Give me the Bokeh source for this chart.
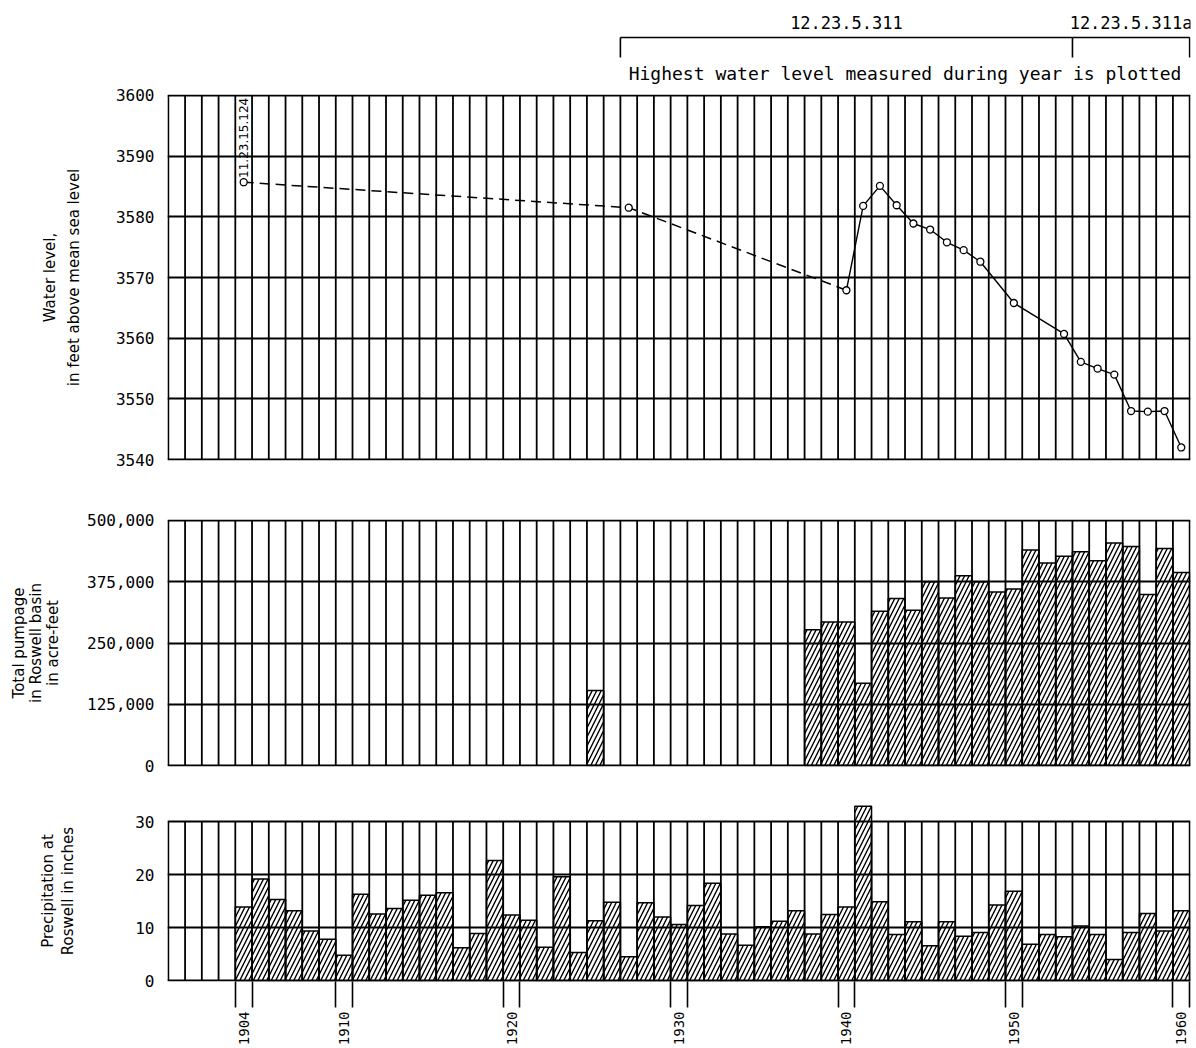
import math

from bokeh.core.properties import value
from bokeh.embed import file_html
from bokeh.layouts import column
from bokeh.models import FixedTicker, NumeralTickFormatter, Range1d
from bokeh.plotting import figure
from bokeh.resources import INLINE

FONT = "DejaVu Sans"
LETTERING = "DejaVu Sans Mono"
INK = "black"
LW = 1.8

# one column per calendar year
years = list(range(1900, 1961))

# Highest water level measured during the year, feet above mean sea level
# sparse early records, joined by a dashed line
early_years = [1904, 1927, 1940]
early_levels = [3585.7, 3581.5, 3567.9]
# continuous record
record_years = [1940, 1941, 1942, 1943, 1944, 1945, 1946, 1947, 1948, 1950,
                1953, 1954, 1955, 1956, 1957, 1958, 1959, 1960]
record_levels = [3567.9, 3581.8, 3585.1, 3581.9, 3578.9, 3577.9, 3575.8, 3574.5,
                 3572.6, 3565.8, 3560.7, 3556.1, 3555.0, 3554.0, 3548.0, 3547.9,
                 3548.0, 3542.0]

# observation wells
first_well = "11.23.15.124"
well_names = ["12.23.5.311", "12.23.5.311a"]
well_first_year = [1927, 1954]
well_last_year = [1953, 1960]
note = "Highest water level measured during year is plotted"

# Total pumpage in Roswell basin, acre-feet
pump_years = [1925, 1938, 1939, 1940, 1941, 1942, 1943, 1944, 1945, 1946, 1947,
              1948, 1949, 1950, 1951, 1952, 1953, 1954, 1955, 1956, 1957, 1958,
              1959, 1960]
pump_values = [153000, 277000, 293000, 293000, 168000, 315000, 341000, 317000,
               375000, 342000, 387000, 375000, 354000, 360000, 440000, 413000,
               427000, 436000, 418000, 454000, 447000, 349000, 443000, 394000]

# Precipitation at Roswell, inches
precip_years = list(range(1904, 1961))
precip_values = [13.9, 19.2, 15.3, 13.2, 9.4, 7.8, 4.8, 16.3, 12.6, 13.6,
                 15.2, 16.1, 16.6, 6.2, 8.9, 22.7, 12.4, 11.4, 6.3, 19.6,
                 5.3, 11.3, 14.8, 4.5, 14.7, 12.0, 10.6, 14.2, 18.4, 8.8,
                 6.7, 10.2, 11.2, 13.2, 8.8, 12.5, 13.9, 32.9, 14.9, 8.7,
                 11.1, 6.6, 11.1, 8.4, 9.1, 14.3, 16.9, 6.9, 8.7, 8.3,
                 10.3, 8.7, 4.0, 9.1, 12.7, 9.4, 13.2]

level_ticks = [3540, 3550, 3560, 3570, 3580, 3590, 3600]
pump_ticks = [0, 125000, 250000, 375000, 500000]
precip_ticks = [0, 10, 20, 30]
labeled_years = [1904, 1910, 1920, 1930, 1940, 1950, 1960]

W = 1196
LEFT, RIGHT = 167, 6
HEAD_H = 84
x_range = Range1d(years[0] - 0.55, years[-1] + 0.55)
edges = [y - 0.5 for y in years] + [years[-1] + 0.5]

BAR_STYLE = dict(fill_color=None, line_color=INK, line_width=1.5,
                 hatch_pattern="/", hatch_color=INK, hatch_scale=9,
                 hatch_weight=1.4)


def make_panel(height, top, bottom, yr, ticks, label, label_standoff,
               line_height):
    p = figure(width=W, height=height, x_range=x_range, y_range=yr,
               output_backend="svg", toolbar_location=None, title=None,
               min_border_left=LEFT, min_border_right=RIGHT,
               min_border_top=top, min_border_bottom=bottom,
               outline_line_color=None, background_fill_color="white",
               border_fill_color="white")
    p.xgrid.visible = False
    ax = p.yaxis[0]
    ax.ticker = FixedTicker(ticks=ticks)
    ax.major_tick_out = 0
    ax.major_tick_in = 0
    ax.minor_tick_out = 0
    ax.minor_tick_in = 0
    ax.axis_line_color = None
    ax.major_label_text_font = LETTERING
    ax.major_label_text_font_size = "16px"
    ax.major_label_text_color = INK
    ax.major_label_standoff = 13
    ax.axis_label = label
    ax.axis_label_text_font = FONT
    ax.axis_label_text_font_size = "15px"
    ax.axis_label_text_font_style = "normal"
    ax.axis_label_text_color = INK
    ax.axis_label_text_line_height = line_height
    ax.axis_label_standoff = label_standoff
    p.ygrid.grid_line_color = INK
    p.ygrid.grid_line_width = LW
    # year columns
    p.segment(x0=edges, y0=[ticks[0]] * len(edges), x1=edges,
              y1=[ticks[-1]] * len(edges), line_color=INK, line_width=LW)
    return p


# header with well brackets (y measured upward from the header's bottom)
head = figure(width=W, height=HEAD_H, x_range=x_range,
              y_range=Range1d(0, HEAD_H),
              output_backend="svg", toolbar_location=None, title=None,
              min_border_left=LEFT, min_border_right=RIGHT,
              min_border_top=0, min_border_bottom=0,
              outline_line_color=None, border_fill_color="white")
head.axis.visible = False
head.grid.visible = False
b0 = [f - 0.5 for f in well_first_year]
b1 = [l + 0.5 for l in well_last_year]
head.segment(x0=b0, y0=[HEAD_H - 37] * len(b0), x1=b1,
             y1=[HEAD_H - 37] * len(b0), line_color=INK, line_width=1.6)
ticks_x = sorted(set(b0 + b1))
head.segment(x0=ticks_x, y0=[HEAD_H - 37] * len(ticks_x), x1=ticks_x,
             y1=[HEAD_H - 57] * len(ticks_x), line_color=INK, line_width=1.6)
head.text(x=[(a + b) / 2 for a, b in zip(b0, b1)], y=[HEAD_H - 22] * len(b0),
          text=well_names, text_font=value(LETTERING), text_font_size="17px",
          text_align="center", text_baseline="middle", text_color=INK)
head.text(x=[(b0[0] + b1[-1]) / 2], y=[HEAD_H - 73], text=[note],
          text_font=value(LETTERING), text_font_size="18px",
          text_align="center", text_baseline="middle", text_color=INK)

# water level
p1 = make_panel(407, 10, 31, Range1d(3539.85, 3600.15), level_ticks,
                "Water level,\nin feet above mean sea level", 30, 1.35)
p1.xaxis.visible = False
p1.line(early_years, early_levels, line_color=INK, line_width=1.5,
        line_dash="10 6")
p1.line(record_years, record_levels, line_color=INK, line_width=1.4)
p1.scatter(early_years + record_years[1:], early_levels + record_levels[1:],
           marker="circle", size=7, fill_color="white", line_color=INK,
           line_width=1.3)
p1.text(x=[early_years[0]], y=[early_levels[0] + 0.7], text=[first_well],
        angle=math.pi / 2, text_font=value(FONT), text_font_size="12px",
        text_align="left", text_baseline="middle", text_color=INK)

# pumpage
p2 = make_panel(305, 28, 30, Range1d(-2000, 502000), pump_ticks,
                "Total pumpage\nin Roswell basin\nin acre-feet", 22, 0.95)
p2.xaxis.visible = False
p2.yaxis[0].formatter = NumeralTickFormatter(format="0,0")
p2.vbar(x=pump_years, top=pump_values, bottom=0, width=1, **BAR_STYLE)

# precipitation
p3 = make_panel(252, 4, 40, Range1d(-0.15, 34), precip_ticks,
                "Precipitation at\nRoswell in inches", 55, 1.1)
p3.vbar(x=precip_years, top=precip_values, bottom=0, width=1, **BAR_STYLE)
xa = p3.xaxis[0]
xa.ticker = FixedTicker(
    ticks=labeled_years,
    minor_ticks=[y + d for y in labeled_years for d in (-0.5, 0.5)])
xa.major_tick_out = 0
xa.major_tick_in = 0
xa.minor_tick_out = 26
xa.minor_tick_in = 0
xa.minor_tick_line_color = INK
xa.minor_tick_line_width = 1.6
xa.axis_line_color = None
xa.major_label_orientation = math.pi / 2
xa.major_label_standoff = 4
xa.major_label_text_font = LETTERING
xa.major_label_text_font_size = "14px"
xa.major_label_text_color = INK

layout = column(head, p1, p2, p3)
open("out.html", "w").write(file_html(layout, INLINE))
